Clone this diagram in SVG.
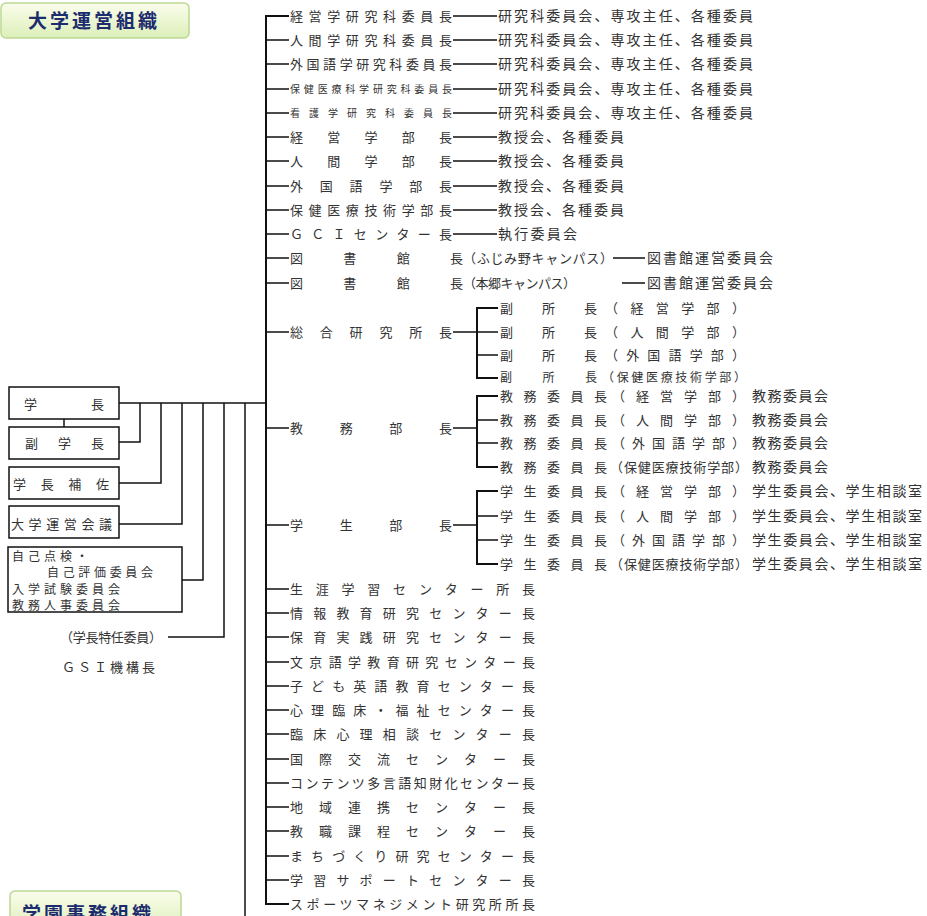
<svg xmlns="http://www.w3.org/2000/svg" width="927" height="916" viewBox="0 0 927 916">
<defs>
<linearGradient id="g" x1="0" y1="0" x2="0" y2="1"><stop offset="0" stop-color="#fbfdec"/><stop offset="1" stop-color="#dcefb9"/></linearGradient>
<style>
text{font-family:"Noto Sans CJK JP","Noto Sans CJK SC",sans-serif;font-size:13px;fill:#333}
.r{font-size:14px}
.sm{font-size:10px}
.bt{font-size:12px}
.ttl{font-size:19px;font-weight:bold;fill:#1c2c6e}
.tb{fill:url(#g);stroke:#bcd894;stroke-width:1.5}
.bx{fill:#fff;stroke:#111;stroke-width:1.5}
.c path{stroke:#111;stroke-width:1.5;fill:none}
.c .m{stroke-width:2}
</style>
</defs>
<rect width="927" height="916" fill="#fff"/>
<g id="title-top"><rect class="tb" x="1" y="3" width="188" height="35" rx="5"/><text class="ttl" x="28" y="28" textLength="129" lengthAdjust="spacing">大学運営組織</text></g>
<g id="title-bottom"><rect class="tb" x="10" y="891" width="171" height="40" rx="5"/><text class="ttl" x="22" y="921" textLength="129" lengthAdjust="spacing">学園事務組織</text></g>

<g class="c" id="connectors">
<path class="m" d="M289,16H266V904H289"/>
<path d="M266,40H289M266,64H289M266,89H289M266,113H289M266,137H289M266,161H289M266,186H289M266,210H289M266,234H289M266,258H289M266,283H289M266,332H289M266,428H289M266,525H289"/>
<path d="M266,589H289M266,613H289M266,637H289M266,662H289M266,686H289M266,710H289M266,734H289M266,759H289M266,783H289M266,807H289M266,831H289M266,856H289M266,880H289"/>
<path d="M453,16H497M453,40H497M453,64H497M453,89H497M453,113H497M453,137H497M453,161H497M453,186H497M453,210H497M453,234H497"/>
<path d="M613,258H645M622,283H645"/>
<path d="M453,332H477"/><path class="m" d="M498,308H477V378H498"/><path d="M477,332H498M477,355H498"/>
<path d="M453,428H477"/><path class="m" d="M498,396H477V467H498"/><path d="M477,420H498M477,443H498"/>
<path d="M453,525H477"/><path class="m" d="M498,491H477V564H498"/><path d="M477,516H498M477,540H498"/>
<path d="M119,403H266"/>
<path d="M64,419V427"/>
<path d="M119,442H140V403"/>
<path d="M119,483H161V403"/>
<path d="M119,524H182V403"/>
<path d="M182,580H203V403"/>
<path d="M168,637H224V403"/>
<path d="M245,403V916"/>
</g>

<g id="gakucho"><rect class="bx" x="9" y="387" width="110" height="32"/><text x="24" y="409" textLength="80" lengthAdjust="spacing">学長</text></g>
<g id="fukugakucho"><rect class="bx" x="9" y="427" width="110" height="32"/><text x="25" y="448" textLength="79" lengthAdjust="spacing">副学長</text></g>
<g id="hosa"><rect class="bx" x="9" y="467" width="110" height="32"/><text x="13" y="489" textLength="96" lengthAdjust="spacing">学長補佐</text></g>
<g id="unei"><rect class="bx" x="9" y="506" width="110" height="32"/><text x="11" y="529" textLength="101" lengthAdjust="spacing">大学運営会議</text></g>
<g id="iinkai"><rect class="bx" x="8" y="547" width="174" height="65"/>
<text class="bt" x="12" y="561" textLength="76" lengthAdjust="spacing">自己点検・</text>
<text class="bt" x="47" y="577" textLength="106" lengthAdjust="spacing">自己評価委員会</text>
<text class="bt" x="12" y="594" textLength="108" lengthAdjust="spacing">入学試験委員会</text>
<text class="bt" x="12" y="610" textLength="108" lengthAdjust="spacing">教務人事委員会</text></g>
<g id="tokunin"><text x="60" y="642" textLength="102" lengthAdjust="spacing">（学長特任委員）</text></g>
<g id="gsi"><text x="62" y="672" textLength="93" lengthAdjust="spacing">ＧＳＩ機構長</text></g>

<g id="r1"><text x="290" y="21" textLength="162" lengthAdjust="spacing">経営学研究科委員長</text><text class="r" x="498" y="21" textLength="255" lengthAdjust="spacing">研究科委員会、専攻主任、各種委員</text></g>
<g id="r2"><text x="290" y="45" textLength="162" lengthAdjust="spacing">人間学研究科委員長</text><text class="r" x="498" y="45" textLength="255" lengthAdjust="spacing">研究科委員会、専攻主任、各種委員</text></g>
<g id="r3"><text x="290" y="69" textLength="162" lengthAdjust="spacing">外国語学研究科委員長</text><text class="r" x="498" y="69" textLength="255" lengthAdjust="spacing">研究科委員会、専攻主任、各種委員</text></g>
<g id="r4"><text class="sm" x="290" y="93" textLength="162" lengthAdjust="spacing">保健医療科学研究科委員長</text><text class="r" x="498" y="94" textLength="255" lengthAdjust="spacing">研究科委員会、専攻主任、各種委員</text></g>
<g id="r5"><text class="sm" x="290" y="117" textLength="162" lengthAdjust="spacing">看護学研究科委員長</text><text class="r" x="498" y="118" textLength="255" lengthAdjust="spacing">研究科委員会、専攻主任、各種委員</text></g>
<g id="r6"><text x="290" y="142" textLength="162" lengthAdjust="spacing">経営学部長</text><text class="r" x="498" y="142" textLength="126" lengthAdjust="spacing">教授会、各種委員</text></g>
<g id="r7"><text x="290" y="166" textLength="162" lengthAdjust="spacing">人間学部長</text><text class="r" x="498" y="166" textLength="126" lengthAdjust="spacing">教授会、各種委員</text></g>
<g id="r8"><text x="290" y="191" textLength="162" lengthAdjust="spacing">外国語学部長</text><text class="r" x="498" y="191" textLength="126" lengthAdjust="spacing">教授会、各種委員</text></g>
<g id="r9"><text x="290" y="215" textLength="162" lengthAdjust="spacing">保健医療技術学部長</text><text class="r" x="498" y="215" textLength="126" lengthAdjust="spacing">教授会、各種委員</text></g>
<g id="r10"><text x="290" y="239" textLength="162" lengthAdjust="spacing">ＧＣＩセンター長</text><text class="r" x="498" y="239" textLength="79" lengthAdjust="spacing">執行委員会</text></g>
<g id="r11"><text x="290" y="263" textLength="173" lengthAdjust="spacing">図書館長</text><text x="463" y="263" textLength="150" lengthAdjust="spacing">（ふじみ野キャンパス）</text><text class="r" x="647" y="263" textLength="126" lengthAdjust="spacing">図書館運営委員会</text></g>
<g id="r12"><text x="290" y="288" textLength="173" lengthAdjust="spacing">図書館長</text><text x="463" y="288" textLength="113" lengthAdjust="spacing">（本郷キャンパス）</text><text class="r" x="647" y="288" textLength="126" lengthAdjust="spacing">図書館運営委員会</text></g>

<g id="sogo"><text x="290" y="337" textLength="162" lengthAdjust="spacing">総合研究所長</text>
<text x="500" y="313" textLength="97" lengthAdjust="spacing">副所長</text><text x="605" y="313" textLength="140" lengthAdjust="spacing">（経営学部）</text>
<text x="500" y="337" textLength="97" lengthAdjust="spacing">副所長</text><text x="605" y="337" textLength="140" lengthAdjust="spacing">（人間学部）</text>
<text x="500" y="360" textLength="97" lengthAdjust="spacing">副所長</text><text x="605" y="360" textLength="140" lengthAdjust="spacing">（外国語学部）</text>
<text class="bt" x="500" y="382" textLength="97" lengthAdjust="spacing">副所長</text><text class="bt" x="602" y="382" textLength="144" lengthAdjust="spacing">（保健医療技術学部）</text></g>

<g id="kyomu"><text x="290" y="433" textLength="162" lengthAdjust="spacing">教務部長</text>
<text x="500" y="401" textLength="107" lengthAdjust="spacing">教務委員長</text><text x="612" y="401" textLength="133" lengthAdjust="spacing">（経営学部）</text><text class="r" x="752" y="401" textLength="76" lengthAdjust="spacing">教務委員会</text>
<text x="500" y="425" textLength="107" lengthAdjust="spacing">教務委員長</text><text x="612" y="425" textLength="133" lengthAdjust="spacing">（人間学部）</text><text class="r" x="752" y="425" textLength="76" lengthAdjust="spacing">教務委員会</text>
<text x="500" y="448" textLength="107" lengthAdjust="spacing">教務委員長</text><text x="612" y="448" textLength="133" lengthAdjust="spacing">（外国語学部）</text><text class="r" x="752" y="448" textLength="76" lengthAdjust="spacing">教務委員会</text>
<text x="500" y="472" textLength="107" lengthAdjust="spacing">教務委員長</text><text x="610" y="472" textLength="138" lengthAdjust="spacing">（保健医療技術学部）</text><text class="r" x="752" y="472" textLength="76" lengthAdjust="spacing">教務委員会</text></g>

<g id="gakusei"><text x="290" y="530" textLength="162" lengthAdjust="spacing">学生部長</text>
<text x="500" y="496" textLength="107" lengthAdjust="spacing">学生委員長</text><text x="612" y="496" textLength="133" lengthAdjust="spacing">（経営学部）</text><text class="r" x="752" y="496" textLength="170" lengthAdjust="spacing">学生委員会、学生相談室</text>
<text x="500" y="521" textLength="107" lengthAdjust="spacing">学生委員長</text><text x="612" y="521" textLength="133" lengthAdjust="spacing">（人間学部）</text><text class="r" x="752" y="521" textLength="170" lengthAdjust="spacing">学生委員会、学生相談室</text>
<text x="500" y="545" textLength="107" lengthAdjust="spacing">学生委員長</text><text x="612" y="545" textLength="133" lengthAdjust="spacing">（外国語学部）</text><text class="r" x="752" y="545" textLength="170" lengthAdjust="spacing">学生委員会、学生相談室</text>
<text x="500" y="569" textLength="107" lengthAdjust="spacing">学生委員長</text><text x="610" y="569" textLength="138" lengthAdjust="spacing">（保健医療技術学部）</text><text class="r" x="752" y="569" textLength="170" lengthAdjust="spacing">学生委員会、学生相談室</text></g>

<g id="r16"><text x="290" y="594" textLength="245" lengthAdjust="spacing">生涯学習センター所長</text></g>
<g id="r17"><text x="290" y="618" textLength="245" lengthAdjust="spacing">情報教育研究センター長</text></g>
<g id="r18"><text x="290" y="642" textLength="245" lengthAdjust="spacing">保育実践研究センター長</text></g>
<g id="r19"><text x="290" y="667" textLength="245" lengthAdjust="spacing">文京語学教育研究センター長</text></g>
<g id="r20"><text x="290" y="691" textLength="245" lengthAdjust="spacing">子ども英語教育センター長</text></g>
<g id="r21"><text x="290" y="715" textLength="245" lengthAdjust="spacing">心理臨床・福祉センター長</text></g>
<g id="r22"><text x="290" y="739" textLength="245" lengthAdjust="spacing">臨床心理相談センター長</text></g>
<g id="r23"><text x="290" y="764" textLength="245" lengthAdjust="spacing">国際交流センター長</text></g>
<g id="r24"><text x="290" y="788" textLength="245" lengthAdjust="spacing">コンテンツ多言語知財化センター長</text></g>
<g id="r25"><text x="290" y="812" textLength="245" lengthAdjust="spacing">地域連携センター長</text></g>
<g id="r26"><text x="290" y="836" textLength="245" lengthAdjust="spacing">教職課程センター長</text></g>
<g id="r27"><text x="290" y="861" textLength="245" lengthAdjust="spacing">まちづくり研究センター長</text></g>
<g id="r28"><text x="290" y="885" textLength="245" lengthAdjust="spacing">学習サポートセンター長</text></g>
<g id="r29"><text x="290" y="909" textLength="245" lengthAdjust="spacing">スポーツマネジメント研究所所長</text></g>
</svg>
